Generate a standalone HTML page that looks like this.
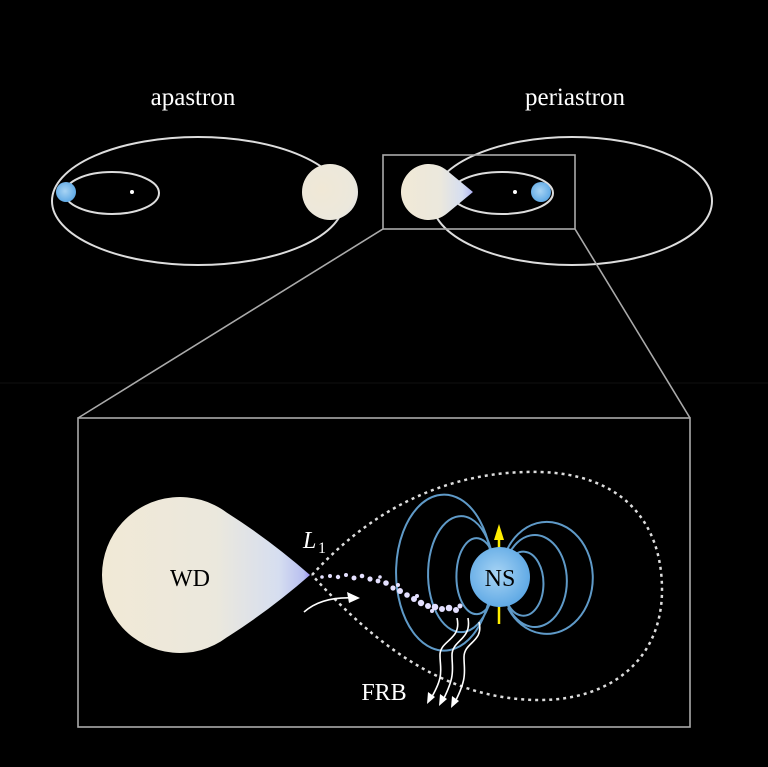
<!DOCTYPE html>
<html><head><meta charset="utf-8"><style>
html,body{margin:0;padding:0;background:#000;}
svg{display:block;}
text{font-family:"Liberation Serif",serif;}
</style></head><body>
<svg width="768" height="767" viewBox="0 0 768 767" xmlns="http://www.w3.org/2000/svg">
<defs>
<radialGradient id="wd" cx="0.35" cy="0.45" r="0.8">
<stop offset="0" stop-color="#f0e8d6"/><stop offset="0.7" stop-color="#ece8dc"/><stop offset="1" stop-color="#dfe2e8"/>
</radialGradient>
<linearGradient id="wdt" x1="0" y1="0" x2="1" y2="0">
<stop offset="0" stop-color="#f1e9d6"/><stop offset="0.55" stop-color="#ebe8dd"/><stop offset="0.85" stop-color="#d6def0"/><stop offset="0.97" stop-color="#b8bff0"/><stop offset="1" stop-color="#9a8ff0"/>
</linearGradient>
<radialGradient id="ns" cx="0.45" cy="0.45" r="0.6">
<stop offset="0" stop-color="#a8d4f4"/><stop offset="1" stop-color="#5aa6e4"/>
</radialGradient>
</defs>
<rect width="768" height="767" fill="#000"/>
<line x1="0" y1="383" x2="768" y2="383" stroke="#111" stroke-width="1"/>
<text x="193" y="105" fill="#fff" font-size="25" text-anchor="middle">apastron</text>
<text x="575" y="105" fill="#fff" font-size="25" text-anchor="middle">periastron</text>
<g fill="none" stroke="#ddd" stroke-width="2">
<ellipse cx="198" cy="201" rx="146" ry="64"/>
<ellipse cx="112" cy="193" rx="47" ry="21"/>
<ellipse cx="572" cy="201" rx="140" ry="64"/>
<ellipse cx="502" cy="193" rx="51" ry="21"/>
</g>
<circle cx="132" cy="192" r="2" fill="#fff"/>
<circle cx="515" cy="192" r="2" fill="#fff"/>
<circle cx="66" cy="192" r="10" fill="url(#ns)"/>
<circle cx="541" cy="192" r="10" fill="url(#ns)"/>
<circle cx="330" cy="192" r="28" fill="url(#wd)"/>
<path d="M473 192 L446.8 170.4 A28 28 0 1 0 446.8 213.6 Z" fill="url(#wdt)"/>
<g fill="none" stroke="#aaa" stroke-width="1.6">
<rect x="383" y="155" width="192" height="74"/>
<line x1="383" y1="229" x2="78" y2="418"/>
<line x1="575" y1="229" x2="690" y2="418"/>
<rect x="78" y="418" width="612" height="309"/>
</g>
<path d="M310 575 Q270 540 226.8 512.6 A78 78 0 1 0 226.8 637.4 Q270 610 310 575 Z" fill="url(#wdt)"/>
<text x="190" y="586" fill="#000" font-size="24" text-anchor="middle">WD</text>
<text x="303" y="548" fill="#fff" font-size="24" font-style="italic">L</text><text x="318" y="553" fill="#fff" font-size="16">1</text>
<path d="M312 575 C380 500 460 470 540 472 C620 474 662 520 662 590 C662 660 610 700 540 700 C450 700 380 650 312 575" fill="none" stroke="#ddd" stroke-width="2.5" stroke-dasharray="3 4"/>
<g fill="none" stroke="#5f9ac8" stroke-width="2">
<path d="M490 550 A48 78 0 1 0 488 604"/>
<path d="M492 554 A33 58 0 1 0 490 602"/>
<path d="M494 558 A20 38 0 1 0 492 600"/>
<path d="M506 552 A46 56 0 1 1 508 608"/>
<path d="M508 556 A32 46 0 1 1 508 606"/>
<path d="M510 560 A20 32 0 1 1 508 604"/>
</g>
<line x1="499" y1="530" x2="499" y2="624" stroke="#ffee00" stroke-width="2.5"/>
<polygon points="499,524 494,540 504,540" fill="#ffee00"/>
<circle cx="500" cy="577" r="30" fill="url(#ns)"/>
<text x="500" y="586" fill="#000" font-size="24" text-anchor="middle">NS</text>
<g fill="#e4e0ff">
<circle cx="322" cy="577" r="1.8"/><circle cx="330" cy="576" r="2"/><circle cx="338" cy="577" r="2.2"/><circle cx="346" cy="575" r="2"/>
<circle cx="354" cy="578" r="2.5"/><circle cx="362" cy="576" r="2.3"/><circle cx="370" cy="579" r="2.6"/><circle cx="378" cy="581" r="2.4"/>
<circle cx="386" cy="583" r="2.8"/><circle cx="393" cy="588" r="2.6"/><circle cx="400" cy="591" r="3"/><circle cx="407" cy="595" r="2.8"/>
<circle cx="414" cy="599" r="3"/><circle cx="421" cy="603" r="3.2"/><circle cx="428" cy="606" r="3"/><circle cx="435" cy="607" r="3.3"/>
<circle cx="442" cy="609" r="3"/><circle cx="449" cy="608" r="3.3"/><circle cx="456" cy="610" r="3"/><circle cx="460" cy="606" r="2.5"/>
<circle cx="380" cy="577" r="1.8"/><circle cx="398" cy="585" r="2"/><circle cx="417" cy="596" r="2"/><circle cx="432" cy="611" r="2"/>
</g>
<g fill="none" stroke="#fff" stroke-width="1.6">
<path d="M304 612 Q322 596 355 598"/>
<path d="M457 618 C462 640 440 640 440 655 C440 670 445 675 430 700"/>
<path d="M468 618 C472 640 452 640 452 655 C452 670 456 675 442 702"/>
<path d="M479 622 C484 642 464 642 464 657 C464 672 468 677 454 704"/>
</g>
<g fill="#fff">
<polygon points="360,598 347,592 349,603"/>
<polygon points="427,704 428,692 435,697"/>
<polygon points="439,706 440,694 447,699"/>
<polygon points="451,708 452,696 459,701"/>
</g>
<text x="384" y="700" fill="#fff" font-size="24" text-anchor="middle">FRB</text>
</svg>
</body></html>
